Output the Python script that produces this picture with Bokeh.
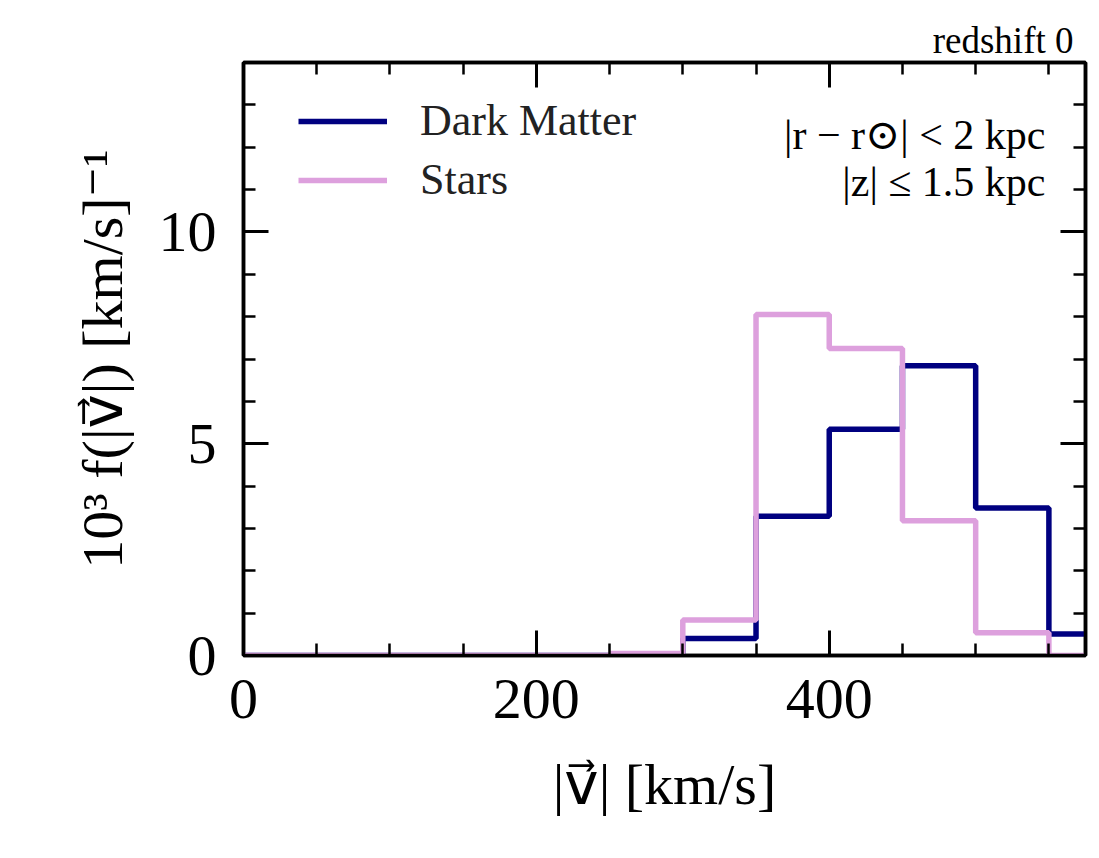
from bokeh.plotting import figure
from bokeh.models import (LinearAxis, SingleIntervalTicker, Label, Legend,
                          LegendItem, Range1d, CustomJSTickFormatter)
from bokeh.embed import file_html
from bokeh.resources import INLINE

# ---- data ----
bin_edges = [0, 50, 100, 150, 200, 250, 300, 350, 400, 450, 500, 550, 600]
dm_values = [0, 0, 0, 0, 0, 0, 0.40, 3.29, 5.34, 6.84, 3.48, 0.51]
star_values = [0, 0, 0, 0, 0, 0.05, 0.84, 8.05, 7.25, 3.18, 0.54, 0.0]
series_names = ["Dark Matter", "Stars"]
series_colors = ["#000080", "#DDA0DD"]
x_label = "|v\u20d7| [km/s]"
y_label = "10\u00b3 f(|v\u20d7|) [km/s]\u207b\u00b9"
note_lines = ["|r \u2212 r\u2299| < 2 kpc", "|z| \u2264 1.5 kpc"]
corner_title = "redshift 0"

FONT = "Liberation Serif"
FONT_LIST = "'Liberation Serif', 'DejaVu Serif', serif"
LABEL_FONT = "'Liberation Serif', 'DejaVu Sans'"

p = figure(frame_width=842, frame_height=593,
           min_border_left=243, min_border_top=62, min_border_right=14,
           min_border_bottom=200,
           x_range=Range1d(0, 575), y_range=Range1d(0, 14),
           output_backend="svg", toolbar_location=None)
p.xgrid.visible = False
p.ygrid.visible = False
p.outline_line_color = "black"
p.outline_line_width = 3.5
p.background_fill_color = "white"
p.border_fill_color = "white"

xt = SingleIntervalTicker(interval=200, num_minor_ticks=4)
yt = SingleIntervalTicker(interval=5, num_minor_ticks=5)


def style_axis(ax, labels=True):
    ax.axis_line_width = 3.5
    ax.axis_line_color = "black"
    ax.major_tick_in = 25
    ax.major_tick_out = 0
    ax.minor_tick_in = 12
    ax.minor_tick_out = 0
    ax.major_tick_line_width = 3
    ax.minor_tick_line_width = 2.5
    ax.major_tick_line_color = "black"
    ax.minor_tick_line_color = "black"
    if labels:
        ax.major_label_text_font = FONT
        ax.major_label_text_font_size = "58px"
        ax.major_label_text_color = "black"
        ax.axis_label_text_font = LABEL_FONT
        ax.axis_label_text_font_size = "58px"
        ax.axis_label_text_font_style = "normal"
        ax.axis_label_text_color = "black"
    else:
        ax.formatter = CustomJSTickFormatter(code="return ''")
        ax.major_label_text_font_size = "10px"
        ax.major_label_standoff = 0


xa = p.xaxis[0]
xa.ticker = xt
style_axis(xa)
xa.axis_label = x_label
xa.major_label_standoff = 24
xa.axis_label_standoff = 31

ya = p.yaxis[0]
ya.ticker = yt
style_axis(ya)
ya.axis_label = y_label
ya.major_label_standoff = 27
ya.axis_label_standoff = 21

top_ax = LinearAxis(ticker=xt)
style_axis(top_ax, labels=False)
p.add_layout(top_ax, "above")
right_ax = LinearAxis(ticker=yt)
style_axis(right_ax, labels=False)
p.add_layout(right_ax, "right")

r_dm = p.step(x=bin_edges, y=dm_values + [dm_values[-1]], mode="after",
              line_color=series_colors[0], line_width=5.5)
r_st = p.step(x=bin_edges, y=star_values + [star_values[-1]], mode="after",
              line_color=series_colors[1], line_width=5.5)

legend = Legend(items=[LegendItem(label=series_names[0], renderers=[r_dm]),
                       LegendItem(label=series_names[1], renderers=[r_st])],
                location=(55, 450))
legend.glyph_width = 89
legend.glyph_height = 50
legend.label_height = 50
legend.label_standoff = 33
legend.spacing = 8
legend.padding = 0
legend.margin = 0
legend.border_line_color = None
legend.background_fill_alpha = 0
legend.label_text_font = FONT
legend.label_text_font_size = "44px"
legend.label_text_color = "#222222"
p.add_layout(legend)

p.add_layout(Label(x=575, y=12.28, text=note_lines[0], text_align="right",
                   text_baseline="alphabetic", x_offset=-40,
                   text_font=FONT_LIST, text_font_size="42px", text_color="black"))
p.add_layout(Label(x=575, y=11.17, text=note_lines[1], text_align="right",
                   text_baseline="alphabetic", x_offset=-40,
                   text_font=FONT_LIST, text_font_size="42px", text_color="black"))

p.title.text = corner_title
p.title.align = "right"
p.title.text_font = FONT
p.title.text_font_size = "37px"
p.title.text_font_style = "normal"
p.title.text_color = "black"
p.title.offset = 12
p.title.standoff = 4

open("out.html", "w").write(file_html(p, INLINE))
